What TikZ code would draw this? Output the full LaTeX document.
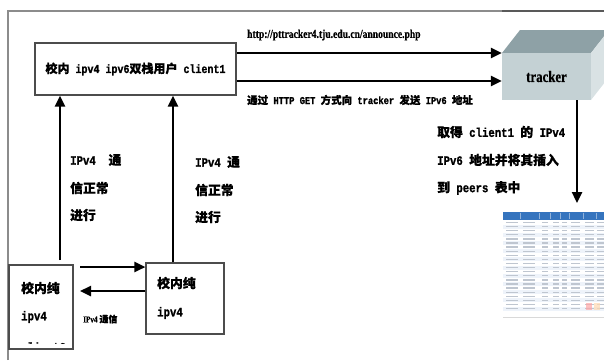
\documentclass[tikz,border=0pt]{standalone}
\usepackage{fontspec}
\setmainfont{Liberation Serif}
\setmonofont{Liberation Mono}[FakeStretch=0.833,BoldFeatures={FakeBold=1.2}]
\newfontfamily\cjk{Noto Sans CJK SC}[BoldFeatures={FakeBold=0.6}]
\newfontfamily\narrowserif{Liberation Serif}[FakeStretch=0.8,BoldFeatures={FakeBold=0.6}]
\newcommand\zh[1]{{\cjk\bfseries #1}}
\usetikzlibrary{arrows.meta}
\definecolor{trkFront}{HTML}{C4D1D4}
\definecolor{trkTop}{HTML}{8EA1A6}
\definecolor{trkSide}{HTML}{D9E2E4}
\definecolor{tblHead}{HTML}{3574BE}
\definecolor{tblBand}{HTML}{EEF3FA}
\definecolor{tblInk}{HTML}{BFC6D0}
\begin{document}
\begin{tikzpicture}[x=1pt,y=-1pt,
  flow/.style={line width=2.4pt,-{Triangle[length=11pt,width=10pt]}},
  hostbox/.style={draw=black!70,line width=1.1pt,fill=white,inner sep=0pt},
  lbl/.style={font=\fontsize{12.8}{12.8}\selectfont\ttfamily\bfseries,anchor=west,inner sep=0pt},
  frame/.style={draw=black!45,line width=1.2pt}]
\useasboundingbox (0,0) rectangle (604,360);
\clip (0,0) rectangle (604,360);

% outer frame
\draw[frame] (8,360) -- (8,11) -- (502,11);
\draw[frame,draw=black!65] (502,11) -- (604,11);

% dual-stack client
\node[hostbox,minimum width=201pt,minimum height=52pt,
      font=\fontsize{12}{12}\selectfont\ttfamily\bfseries] (c1) at (135.5,69)
  {\zh{校内} ipv4 ipv6\zh{双栈用户} client1};

% tracker server block
\fill[trkTop] (502,53) -- (520,30) -- (609,30) -- (591,53) -- cycle;
\fill[trkSide] (591,53) -- (609,30) -- (609,77) -- (591,100) -- cycle;
\node[fill=trkFront,minimum width=89pt,minimum height=47pt,inner sep=0pt,
      font=\fontsize{16}{16}\selectfont\narrowserif\bfseries] (trk) at (546.5,76.5) {tracker};

% peers table
\node[inner sep=0pt,minimum width=101pt,minimum height=106pt] (tbl) at (553.5,265) {};
\fill[white] (tbl.north west) rectangle (tbl.south east);
\fill[tblHead] (503,212) rectangle (604,219.5);
\foreach \a in {520,539,550,560,569,583,596}
  \draw[white,opacity=.45,line width=.6pt] (\a,212.5) -- (\a,219);
\foreach \r in {0,...,21} {
  \pgfmathsetmacro\yy{222.5+4.1*\r}
  \ifodd\r \fill[tblBand] (503,\yy-2) rectangle (604,\yy+2);\fi
  \foreach \a/\b in {506/518,523/535,542/548,553/559,562/567,571/580,585/594,597/604}
    \draw[tblInk,line width=1.3pt] (\a,\yy) -- (\b,\yy);
}
\fill[red!35,opacity=.7] (586,303) rectangle (592,310);
\fill[orange!30,opacity=.7] (594,303) rectangle (600,310);
\draw[black!15] (503,317.5) -- (604,317.5);

% announce requests
\coordinate (y1) at (0,53);
\coordinate (y2) at (0,81);
\draw[flow] (c1.east |- y1) -- (trk.west |- y1);
\draw[flow] (c1.east |- y2) -- (trk.west |- y2);
\node[anchor=west,inner sep=0pt,font=\fontsize{12}{12}\selectfont\narrowserif\bfseries] (url) at (247,35)
  {http://pttracker4.tju.edu.cn/announce.php};
\node[lbl,font=\fontsize{10.5}{10.5}\selectfont\ttfamily\bfseries] (get) at (247,100)
  {\zh{通过} HTTP GET \zh{方式向} tracker \zh{发送} IPv6 \zh{地址}};

% tracker stores the addresses
\coordinate (tipA) at (577,203);
\draw[flow] (trk.south -| tipA) -- (tipA);
\node[lbl] (r1) at (437,132) {\zh{取得} client1 \zh{的} IPv4};
\node[lbl] (r2) at (437,160) {IPv6 \zh{地址并将其插入}};
\node[lbl] (r3) at (437,188) {\zh{到} peers \zh{表中}};

% IPv4-only hosts
\node[hostbox,minimum width=64pt,minimum height=84pt] (pa) at (41,307) {};
\node[hostbox,minimum width=78pt,minimum height=71pt] (pb) at (185,298.5) {};
\node[lbl] (pa1) at (21,288) {\zh{校内纯}};
\node[lbl] (pa2) at (21,317) {ipv4};
\begin{scope}
  \clip (10,266) rectangle (72,343);
  \node[lbl] (pa3) at (21,347) {client2};
\end{scope}
\node[lbl] (pb1) at (157,283) {\zh{校内纯}};
\node[lbl] (pb2) at (157,313) {ipv4};

% IPv4 links up to the client
\coordinate (va) at (60,260);
\coordinate (vb) at (173,0);
\draw[flow] (va) -- (c1.south -| va);
\draw[flow] (pb.north -| vb) -- (c1.south -| vb);
\node[lbl] (la1) at (70,160) {IPv4\ \ \zh{通}};
\node[lbl] (la2) at (70,188) {\zh{信正常}};
\node[lbl] (la3) at (70,215) {\zh{进行}};
\node[lbl] (lb1) at (195,162) {IPv4 \zh{通}};
\node[lbl] (lb2) at (195,190) {\zh{信正常}};
\node[lbl] (lb3) at (195,217) {\zh{进行}};

% IPv4 traffic between the two hosts
\coordinate (h1) at (80,267);
\coordinate (h2) at (80,291);
\draw[flow] (h1) -- (pb.west |- h1);
\draw[flow] (pb.west |- h2) -- (h2);
\node[anchor=west,inner sep=0pt,font=\fontsize{9}{9}\selectfont\narrowserif\bfseries] (lc) at (83,319)
  {IPv4 \zh{通信}};
\end{tikzpicture}
\end{document}
